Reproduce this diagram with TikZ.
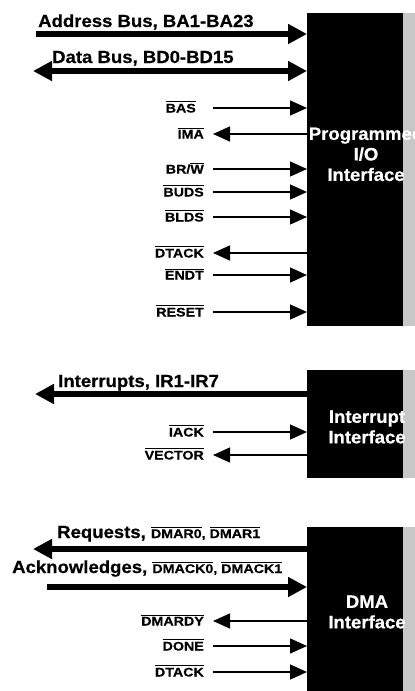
\documentclass[tikz,border=0pt]{standalone}
\usepackage{fontspec}
\setmainfont{Liberation Sans}
\newfontfamily\bigf{Liberation Sans Bold}[FakeStretch=1.06,FakeBold=0.6]
\newfontfamily\smf{Liberation Sans Bold}[FakeStretch=1.14,FakeBold=0.4]
\newfontfamily\boxf{Liberation Sans Bold}[FakeStretch=1.03,FakeBold=0.6]
\usetikzlibrary{arrows.meta}
\newcommand{\ob}[1]{\leavevmode\vbox{\hrule height 0.9pt\kern1.4pt\hbox{#1}}}
\begin{document}
\begin{tikzpicture}[x=1pt,y=-1pt,
  box/.style={fill=black, draw=none, inner sep=0pt, anchor=north west, minimum width=96pt},
  strip/.style={fill=black!22, draw=none},
  boxtext/.style={text=white, font=\boxf\fontsize{18}{20.5}\selectfont, align=center, inner sep=0pt},
  buslabel/.style={font=\bigf\fontsize{17.5}{21}\selectfont, anchor=base west, inner sep=0pt},
  small/.style={font=\smf\fontsize{12.5}{15}\selectfont},
  siglabel/.style={small, anchor=east, inner xsep=9pt, inner ysep=0pt, text height=9pt, text depth=0pt},
  bus/.style={line width=6pt},
  bushead/.style={-{Triangle[length=19pt,width=19pt]}},
  sig/.style={line width=1.3pt, -{Triangle[length=17pt,width=15pt]}}
]
\useasboundingbox (0,0) rectangle (415,691);

% boxes
\node[box, minimum height=313pt] (pio) at (307,13) {};
\node[box, minimum height=108pt] (intr) at (307,370) {};
\node[box, minimum height=170pt] (dma) at (307,527) {};
\fill[strip] (pio.north east) rectangle ([xshift=12pt]pio.south east);
\fill[strip] (intr.north east) rectangle ([xshift=12pt]intr.south east);
\fill[strip] (dma.north east) rectangle ([xshift=12pt]dma.south east);

\node[boxtext] (piot) at (366,154) {Programmed\\I/O\\Interface};
\node[boxtext] (intrt) at (367,427) {Interrupt\\Interface};
\node[boxtext] (dmat) at (367,612) {DMA\\Interface};

% --- Programmed I/O buses
\node[buslabel] (abl) at (38,27) {Address Bus, BA1-BA23};
\coordinate (ab) at (36,34);
\draw[bus,bushead] (ab) -- (ab -| pio.west);
\node[buslabel] (dbl) at (52,63) {Data Bus, BD0-BD15};
\coordinate (db) at (33,71);
\draw[bus,{Triangle[length=19pt,width=19pt]}-{Triangle[length=19pt,width=19pt]}] (db) -- (db -| pio.west);

% --- Programmed I/O signals
\node[siglabel, inner xsep=17pt] (bas) at (213,108) {\ob{BAS}};
\draw[sig] (bas.east) -- (bas.east -| pio.west);
\node[siglabel] (ima) at (213,134) {\ob{IMA}};
\draw[sig] (ima.east -| pio.west) -- (ima.east);
\node[siglabel] (brw) at (213,169) {BR/\ob{W}};
\draw[sig] (brw.east) -- (brw.east -| pio.west);
\node[siglabel] (buds) at (213,192) {\ob{BUDS}};
\draw[sig] (buds.east) -- (buds.east -| pio.west);
\node[siglabel] (blds) at (213,217) {\ob{BLDS}};
\draw[sig] (blds.east) -- (blds.east -| pio.west);
\node[siglabel] (dtack) at (213,253) {\ob{DTACK}};
\draw[sig] (dtack.east -| pio.west) -- (dtack.east);
\node[siglabel] (endt) at (213,275) {\ob{ENDT}};
\draw[sig] (endt.east) -- (endt.east -| pio.west);
\node[siglabel] (reset) at (213,312) {\ob{RESET}};
\draw[sig] (reset.east) -- (reset.east -| pio.west);

% --- Interrupt
\node[buslabel] (irl) at (58,387) {Interrupts, IR1-IR7};
\coordinate (ir) at (35,394);
\draw[bus,bushead] (ir -| intr.west) -- (ir);
\node[siglabel] (iack) at (213,432) {\ob{IACK}};
\draw[sig] (iack.east) -- (iack.east -| intr.west);
\node[siglabel] (vector) at (213,455) {\ob{VECTOR}};
\draw[sig] (vector.east -| intr.west) -- (vector.east);

% --- DMA
\node[buslabel] (rql) at (57,538) {Requests, {\smf\fontsize{12.5}{15}\selectfont\ob{DMAR0}, \ob{DMAR1}}};
\coordinate (rq) at (33,549);
\draw[bus,bushead] (rq -| dma.west) -- (rq);
\node[buslabel] (akl) at (12,573) {Acknowledges, {\smf\fontsize{12.5}{15}\selectfont\ob{DMACK0}, \ob{DMACK1}}};
\coordinate (ak) at (47,587);
\draw[bus,bushead] (ak) -- (ak -| dma.west);
\node[siglabel] (dmardy) at (213,621) {\ob{DMARDY}};
\draw[sig] (dmardy.east -| dma.west) -- (dmardy.east);
\node[siglabel] (done) at (213,646) {\ob{DONE}};
\draw[sig] (done.east) -- (done.east -| dma.west);
\node[siglabel] (dtackb) at (213,672) {\ob{DTACK}};
\draw[sig] (dtackb.east) -- (dtackb.east -| dma.west);
\end{tikzpicture}
\end{document}
